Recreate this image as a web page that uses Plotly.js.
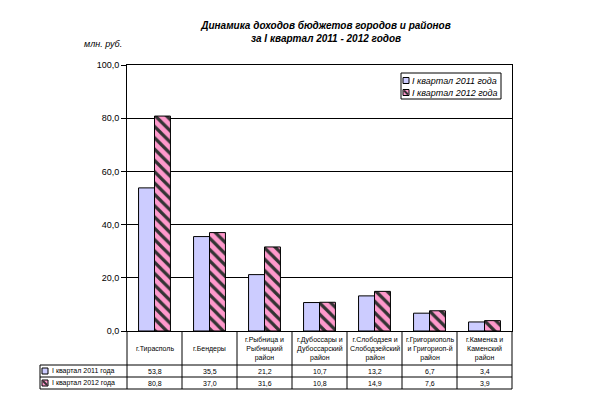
<!DOCTYPE html>
<html>
<head>
<meta charset="utf-8">
<script src="https://cdn.plot.ly/plotly-3.0.1.min.js"></script>
<style>html,body{margin:0;padding:0;background:#fff;}#chart{width:598px;height:395px;}</style>
</head>
<body>
<div id="chart"></div>
<script>
// ---- data ----
const categories = [
  "г.Тирасполь",
  "г.Бендеры",
  "г.Рыбница и<br>Рыбницкий<br>район",
  "г.Дубоссары и<br>Дубоссарский<br>район",
  "г.Слободзея и<br>Слободзейский<br>район",
  "г.Григориополь<br>и Григориоп-й<br>район",
  "г.Каменка и<br>Каменский<br>район"
];
const seriesNames = ["I квартал 2011 года", "I квартал 2012 года"];
const values2011 = [53.8, 35.5, 21.2, 10.7, 13.2, 6.7, 3.4];
const values2012 = [80.8, 37.0, 31.6, 10.8, 14.9, 7.6, 3.9];
const valueLabels2011 = ["53,8", "35,5", "21,2", "10,7", "13,2", "6,7", "3,4"];
const valueLabels2012 = ["80,8", "37,0", "31,6", "10,8", "14,9", "7,6", "3,9"];
const yTicks = [0, 20, 40, 60, 80, 100];

// ---- layout helpers (pixel -> paper) ----
const W = 598, H = 395;
const L = 127, R = 512, T = 65, B = 331;
const px = p => (p - L) / (R - L);
const py = p => (B - p) / (B - T);
const N = categories.length;
const FONT = "Arial, 'Liberation Sans', sans-serif";
const C2011 = "#CCCCFF", C2012 = "#FF99CC";

const catKeys = categories.map((c, i) => "c" + i);

const traces = [
  {
    type: "bar", x: catKeys, y: values2011, name: seriesNames[0],
    marker: { color: C2011, line: { color: "#000", width: 1 } },
    hoverinfo: "skip", showlegend: false
  },
  {
    type: "bar", x: catKeys, y: values2012, name: seriesNames[1],
    marker: { color: C2012, line: { color: "#000", width: 1 },
      pattern: { shape: "\\", fgcolor: "#333333", bgcolor: C2012, size: 8, solidity: 0.4, fillmode: "replace" } },
    hoverinfo: "skip", showlegend: false
  }
];

const shapes = [];
const annotations = [];
const line = (x0, y0, x1, y1) => shapes.push({ type: "line", xref: "paper", yref: "paper", x0, y0, x1, y1, line: { color: "#000", width: 1 } });

// table vertical lines
for (let i = 0; i <= N; i++) line(i / N, py(331), i / N, py(389));
// table horizontal lines
[365, 377, 389].forEach(r => line(px(40), py(r), 1, py(r)));
line(px(40), py(365), px(40), py(389));

// category labels
categories.forEach((c, i) => annotations.push({
  xref: "paper", yref: "paper", x: (i + 0.5) / N, y: py(349), text: c, showarrow: false,
  xanchor: "center", yanchor: "middle", font: { family: FONT, size: 7, color: "#000" }
}));
// values
[valueLabels2011, valueLabels2012].forEach((arr, s) => arr.forEach((v, i) => annotations.push({
  xref: "paper", yref: "paper", x: (i + 0.5) / N, y: py(s === 0 ? 371 : 383), text: v, showarrow: false,
  xanchor: "center", yanchor: "middle", font: { family: FONT, size: 7, color: "#000" }
})));
// keys
const keySquare = (x0, yc, s, sz) => {
  shapes.push({ type: "rect", xref: "paper", yref: "paper", x0: px(x0), x1: px(x0 + sz), y0: py(yc - sz / 2), y1: py(yc + sz / 2),
    fillcolor: s === 0 ? C2011 : C2012, line: { color: "#000", width: 1 } });
  if (s === 1) {
    shapes.push({ type: "line", xref: "paper", yref: "paper", x0: px(x0 + 1), y0: py(yc - sz / 2 + 1), x1: px(x0 + sz - 1), y1: py(yc + sz / 2 - 1),
      line: { color: "#333", width: 2 } });
  }
};
seriesNames.forEach((n, s) => {
  const yc = s === 0 ? 371 : 383;
  keySquare(42, yc, s, 6);
  annotations.push({ xref: "paper", yref: "paper", x: px(50), y: py(yc), text: n, showarrow: false,
    xanchor: "left", yanchor: "middle", font: { family: FONT, size: 7, color: "#000" } });
});

// legend box (in plot)
shapes.push({ type: "rect", xref: "paper", yref: "paper", x0: px(401), x1: px(501), y0: py(73), y1: py(99),
  line: { color: "#000", width: 1 }, fillcolor: "#fff" });
seriesNames.forEach((n, s) => {
  const yc = s === 0 ? 80.5 : 92.5;
  keySquare(403, yc, s, 6);
  annotations.push({ xref: "paper", yref: "paper", x: px(410), y: py(yc), text: n, showarrow: false,
    xanchor: "left", yanchor: "middle", font: { family: FONT, size: 9, color: "#000", style: "italic" } });
});

// unit label
annotations.push({ xref: "paper", yref: "paper", x: px(82), y: py(44), text: "млн. руб.", showarrow: false,
  xanchor: "left", yanchor: "middle", font: { family: FONT, size: 9, color: "#000", style: "italic" } });

const layout = {
  width: W, height: H,
  margin: { l: L, r: W - R, t: T, b: H - B, pad: 0 },
  paper_bgcolor: "#fff", plot_bgcolor: "#fff",
  separators: ",.",
  showlegend: false,
  bargap: 0.42, bargroupgap: 0,
  title: {
    text: "Динамика доходов бюджетов городов и районов<br>за I квартал 2011 - 2012 годов",
    x: 326 / W, xref: "container", xanchor: "center",
    y: 1 - 29 / H, yref: "container", yanchor: "top",
    font: { family: FONT, size: 10, color: "#000", weight: "bold", style: "italic" }
  },
  xaxis: {
    type: "category", showticklabels: false, ticks: "", showgrid: false,
    showline: true, mirror: true, linecolor: "#000", linewidth: 1, fixedrange: true
  },
  yaxis: {
    range: [0, 100], tickvals: yTicks, tickformat: ".1f",
    ticks: "outside", ticklen: 5, tickcolor: "#000", tickwidth: 1,
    showgrid: true, gridcolor: "#000", gridwidth: 1, zeroline: false,
    showline: true, mirror: true, linecolor: "#000", linewidth: 1,
    tickfont: { family: FONT, size: 9, color: "#000" }, fixedrange: true
  },
  shapes, annotations
};

Plotly.newPlot("chart", traces, layout, { staticPlot: true, displayModeBar: false });
</script>
</body>
</html>
